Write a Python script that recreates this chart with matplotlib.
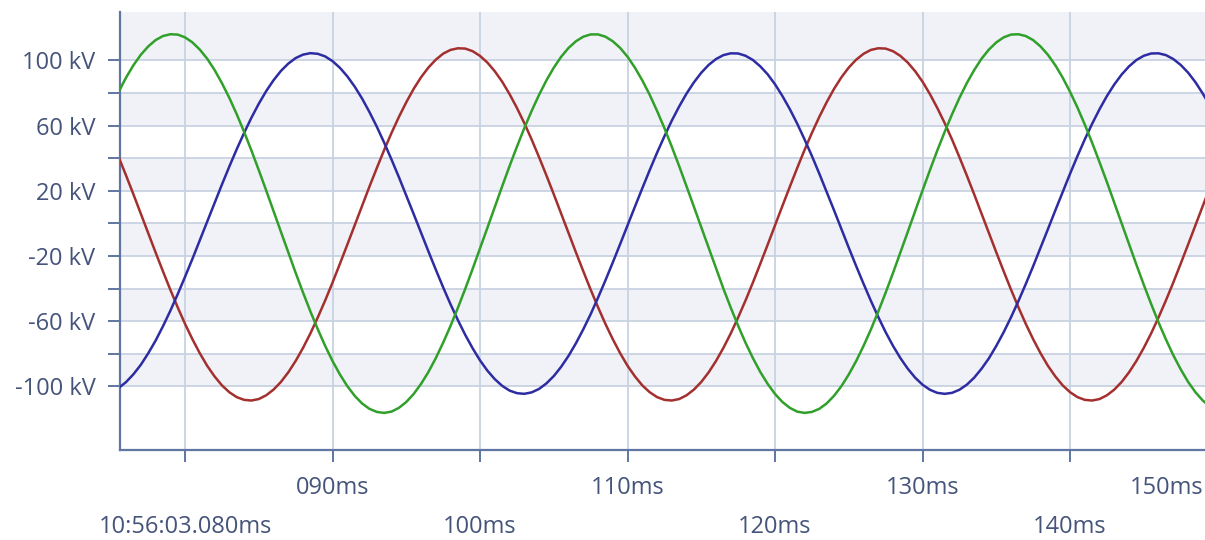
import matplotlib
matplotlib.use("Agg")
import matplotlib.pyplot as plt
from matplotlib.ticker import FixedLocator, FixedFormatter, NullFormatter

# ---------------- data ----------------
# sample times, ms after 10:56:03.000, every 0.5 ms from 75 to 150
times_ms = [75 + 0.5 * i for i in range(151)]

phase_green_kv = [
    71.1, 80.8, 89.5, 97.1, 103.5, 108.6, 112.5, 115.0, 116.1, 115.9,
    114.2, 111.1, 106.7, 101.1, 94.2, 86.1, 77.1, 67.1, 56.3, 44.8,
    32.7, 20.3, 7.7, -5.1, -17.8, -30.3, -42.4, -54.0, -64.9, -75.1,
    -84.4, -92.6, -99.8, -105.7, -110.4, -113.7, -115.6, -116.2, -115.4, -113.1,
    -109.5, -104.6, -98.4, -91.1, -82.6, -73.1, -62.8, -51.7, -40.0, -27.8,
    -15.3, -2.6, 10.2, 22.8, 35.2, 47.1, 58.5, 69.1, 78.9, 87.8,
    95.6, 102.3, 107.7, 111.8, 114.6, 116.0, 116.0, 114.6, 111.8, 107.7,
    102.3, 95.6, 87.8, 79.0, 69.1, 58.5, 47.1, 35.2, 22.8, 10.2,
    -2.6, -15.2, -27.8, -40.0, -51.7, -62.8, -73.2, -82.6, -91.1, -98.4,
    -104.6, -109.5, -113.1, -115.4, -116.2, -115.6, -113.7, -110.4, -105.7, -99.8,
    -92.6, -84.4, -75.1, -65.0, -54.0, -42.4, -30.3, -17.8, -5.1, 7.6,
    20.3, 32.7, 44.8, 56.2, 67.0, 77.0, 86.1, 94.1, 101.1, 106.7,
    111.1, 114.2, 115.9, 116.1, 115.0, 112.5, 108.6, 103.5, 97.1, 89.5,
    80.8, 71.2, 60.7, 49.5, 37.6, 25.4, 12.7, 0.1, -12.7, -25.3,
    -37.6, -49.4, -60.7, -71.1, -80.8, -89.4, -97.1, -103.5, -108.6, -112.5,
    -115.0]

phase_blue_kv = [
    -103.3, -100.9, -97.3, -92.5, -86.7, -79.7, -71.9, -63.1, -53.6, -43.4,
    -32.7, -21.7, -10.3, 1.1, 12.6, 23.9, 34.9, 45.5, 55.5, 64.9,
    73.5, 81.2, 87.9, 93.6, 98.1, 101.5, 103.6, 104.5, 104.1, 102.5,
    99.6, 95.5, 90.3, 84.0, 76.7, 68.4, 59.4, 49.6, 39.2, 28.4,
    17.1, 5.8, -5.7, -17.1, -28.3, -39.2, -49.6, -59.3, -68.4, -76.6,
    -84.0, -90.3, -95.5, -99.6, -102.5, -104.1, -104.5, -103.6, -101.5, -98.1,
    -93.6, -87.9, -81.2, -73.5, -64.9, -55.6, -45.5, -34.9, -23.9, -12.6,
    -1.1, 10.3, 21.6, 32.7, 43.4, 53.5, 63.1, 71.8, 79.7, 86.6,
    92.5, 97.3, 100.9, 103.3, 104.4, 104.3, 102.9, 100.3, 96.4, 91.5,
    85.4, 78.2, 70.2, 61.3, 51.6, 41.4, 30.6, 19.4, 8.1, -3.4,
    -14.9, -26.1, -37.0, -47.5, -57.4, -66.7, -75.1, -82.6, -89.1, -94.6,
    -98.9, -102.0, -103.9, -104.5, -103.9, -102.0, -98.9, -94.6, -89.1, -82.7,
    -75.1, -66.7, -57.5, -47.6, -37.1, -26.2, -14.9, -3.5, 8.0, 19.3,
    30.5, 41.3, 51.6, 61.2, 70.1, 78.2, 85.3, 91.4, 96.4, 100.3,
    102.9, 104.3, 104.4, 103.3, 100.9, 97.3, 92.6, 86.7, 79.7, 71.9,
    63.1]

phase_red_kv = [
    51.5, 40.7, 29.5, 17.9, 6.0, -5.9, -17.7, -29.3, -40.6, -51.4,
    -61.6, -71.0, -79.6, -87.3, -93.8, -99.3, -103.5, -106.5, -108.2, -108.6,
    -107.7, -105.4, -101.9, -97.2, -91.3, -84.3, -76.3, -67.4, -57.6, -47.2,
    -36.2, -24.7, -13.0, -1.1, 10.8, 22.6, 34.0, 45.1, 55.6, 65.4,
    74.4, 82.6, 89.7, 95.7, 100.5, 104.2, 106.5, 107.5, 107.3, 105.7,
    102.8, 98.7, 93.4, 87.0, 79.4, 70.9, 61.6, 51.5, 40.7, 29.5,
    17.9, 6.0, -5.9, -17.7, -29.3, -40.6, -51.4, -61.6, -71.0, -79.6,
    -87.3, -93.8, -99.3, -103.5, -106.5, -108.2, -108.6, -107.7, -105.4, -101.9,
    -97.2, -91.3, -84.3, -76.3, -67.4, -57.6, -47.2, -36.2, -24.7, -13.0,
    -1.1, 10.8, 22.5, 34.0, 45.1, 55.6, 65.4, 74.4, 82.6, 89.7,
    95.7, 100.5, 104.1, 106.5, 107.5, 107.3, 105.7, 102.8, 98.7, 93.4,
    87.0, 79.4, 70.9, 61.6, 51.5, 40.7, 29.5, 17.9, 6.0, -5.9,
    -17.7, -29.3, -40.6, -51.4, -61.6, -71.0, -79.6, -87.3, -93.8, -99.3,
    -103.5, -106.5, -108.2, -108.6, -107.7, -105.4, -101.9, -97.2, -91.3, -84.3,
    -76.3, -67.4, -57.6, -47.2, -36.2, -24.7, -13.0, -1.1, 10.8, 22.6,
    34.0]

y_label_ticks = [-100, -60, -20, 20, 60, 100]
y_label_texts = ["-100 kV", "-60 kV", "-20 kV", "20 kV", "60 kV", "100 kV"]
y_unlabeled_ticks = [-80, -40, 0, 40, 80]

x_row2_ticks = [80, 100, 120, 140]
x_row2_labels = ["10:56:03.080ms", "100ms", "120ms", "140ms"]
x_row1_ticks = [90, 110, 130]
x_row1_labels = ["090ms", "110ms", "130ms"]
x_last_label = "150ms"

# ---------------- style ----------------
plt.rcParams["font.family"] = ["Open Sans", "DejaVu Sans"]
TEXT = "#45547a"
AXIS = "#5f76a3"
GRID = "#c9d2e1"
BAND = "#f0f2f7"
FS = 17

W, H = 1205, 540
fig = plt.figure(figsize=(W / 100, H / 100), dpi=100)
ax = fig.add_axes([120 / W, 1 - 450 / H, 1085 / W, 438 / H])
ax.set_xlim(75.59, 149.15)
ax.set_ylim(-138.96, 129.75)

# alternating bands
for lo in range(-100, 101, 40):
    hi = lo + 20 if lo < 100 else 300
    ax.axhspan(lo, hi, color=BAND, lw=0, zorder=0)

ax.set_axisbelow(True)

ax.yaxis.set_major_locator(FixedLocator(y_label_ticks))
ax.yaxis.set_major_formatter(FixedFormatter(y_label_texts))
ax.yaxis.set_minor_locator(FixedLocator(y_unlabeled_ticks))
ax.yaxis.set_minor_formatter(NullFormatter())

ax.xaxis.set_major_locator(FixedLocator(x_row2_ticks))
ax.xaxis.set_major_formatter(FixedFormatter(x_row2_labels))
ax.xaxis.set_minor_locator(FixedLocator(x_row1_ticks))
ax.xaxis.set_minor_formatter(FixedFormatter(x_row1_labels))

ax.grid(which="both", axis="both", color=GRID, lw=1.3, zorder=1)

for s in ("top", "right"):
    ax.spines[s].set_visible(False)
for s in ("left", "bottom"):
    ax.spines[s].set_color(AXIS)
    ax.spines[s].set_linewidth(1.6)

ax.tick_params(which="both", direction="out", length=8.6, width=1.4,
               color=AXIS, labelcolor=TEXT, labelsize=FS)
ax.tick_params(axis="y", which="both", pad=9)
ax.tick_params(axis="x", which="major", pad=38.5)
ax.tick_params(axis="x", which="minor", pad=10)

ax.plot(times_ms, phase_red_kv, color="#a3302e", lw=1.8, zorder=3)
ax.plot(times_ms, phase_blue_kv, color="#2d2ca2", lw=1.8, zorder=3)
ax.plot(times_ms, phase_green_kv, color="#30a02a", lw=1.8, zorder=3)

fig.text(1203 / W, 1 - (462 + 10 * 100 / 72) / H, x_last_label,
         ha="right", va="top", color=TEXT, fontsize=FS)

fig.savefig("out.png", dpi=100)
